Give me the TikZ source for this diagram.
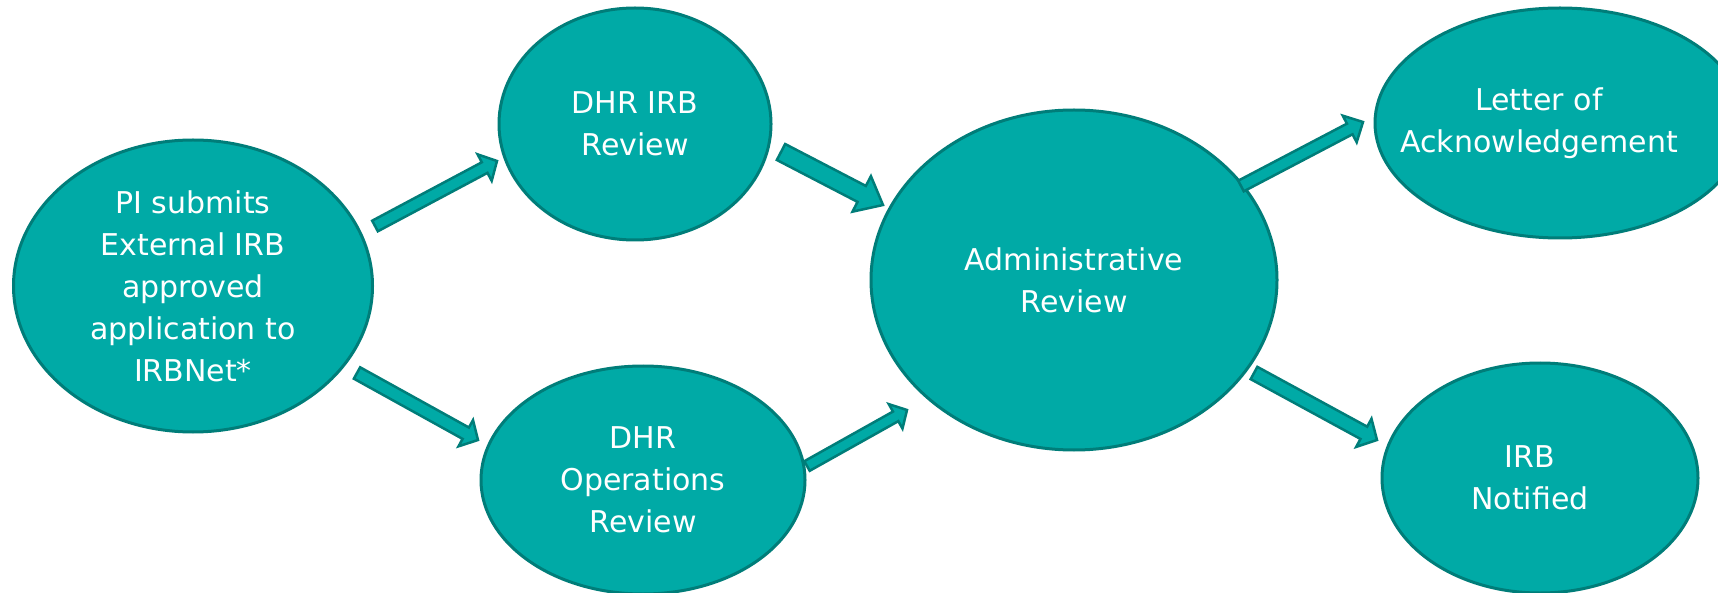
\documentclass[tikz,border=0pt]{standalone}
\usepackage{fontspec}
\setmainfont{DejaVu Sans}
\usetikzlibrary{shapes.geometric,calc}
\definecolor{tealfill}{RGB}{0,170,166}
\definecolor{tealline}{RGB}{0,125,121}
\tikzset{
  bubble/.style={ellipse, fill=tealfill, draw=tealline, line width=3pt, text=white,
    align=center, inner sep=0pt, font=\fontsize{30}{42}\selectfont},
  blockarr/.style={fill=tealfill, draw=tealline, line width=2.5pt, line join=miter},
}
% #1 tail, #2 tip, #3 half shaft width, #4 half head width, #5 head length
\newcommand\blockarrow[5]{%
  \path[blockarr] let \p1=($(#2)-(#1)$), \n1={atan2(\y1,\x1)}, \n2={veclen(\x1,\y1)} in
    ($(#1)+(\n1+90:#3)$) -- ($(#1)+(\n1:{\n2-#5})+(\n1+90:#3)$)
    -- ($(#1)+(\n1:{\n2-#5})+(\n1+90:#4)$) -- (#2)
    -- ($(#1)+(\n1:{\n2-#5})+(\n1-90:#4)$) -- ($(#1)+(\n1:{\n2-#5})+(\n1-90:#3)$)
    -- ($(#1)+(\n1-90:#3)$) -- cycle;}
\begin{document}
\begin{tikzpicture}[x=1pt,y=1pt]
\useasboundingbox (0,0) rectangle (1718,-593);
\fill[white] (0,0) rectangle (1718,-593);
\clip (0,0) rectangle (1718,-593);

\node[bubble, minimum width=359pt, minimum height=292pt] (pi) at (193,-286)
  {PI submits\\External IRB\\approved\\application to\\IRBNet*};
\node[bubble, minimum width=272pt, minimum height=232pt] (irb) at (635,-124)
  {DHR IRB\\Review};
\node[bubble, minimum width=324pt, minimum height=228pt] (ops) at (643,-480)
  {DHR\\Operations\\Review};
\node[bubble, minimum width=406pt, minimum height=340pt] (admin) at (1074,-280)
  {Administrative\\Review};
\node[bubble, minimum width=370pt, minimum height=230pt] (letter) at (1560,-123)
  {\hspace*{-42pt}Letter of\\\hspace*{-42pt}Acknowledgement};
\node[bubble, minimum width=316pt, minimum height=230pt] (notif) at (1540,-478)
  {\hspace*{-20pt}IRB\\\hspace*{-20pt}Notified};

\coordinate (a1s) at (375,-226); \coordinate (a1e) at (497,-161);
\coordinate (a2s) at (357,-373); \coordinate (a2e) at (478,-440);
\coordinate (a3s) at (781,-152); \coordinate (a3e) at (883,-205);
\coordinate (a4s) at (807,-466); \coordinate (a4e) at (907,-410);
\coordinate (a5s) at (1241,-186); \coordinate (a5e) at (1363,-122);
\coordinate (a6s) at (1254,-373); \coordinate (a6e) at (1377,-440);

\blockarrow{a1s}{a1e}{6}{15}{14}
\blockarrow{a2s}{a2e}{6.5}{15}{14}
\blockarrow{a3s}{a3e}{9}{20}{24}
\blockarrow{a4s}{a4e}{5.5}{14}{13}
\blockarrow{a5s}{a5e}{6}{15}{15}
\blockarrow{a6s}{a6e}{7}{16}{15}
\end{tikzpicture}
\end{document}
